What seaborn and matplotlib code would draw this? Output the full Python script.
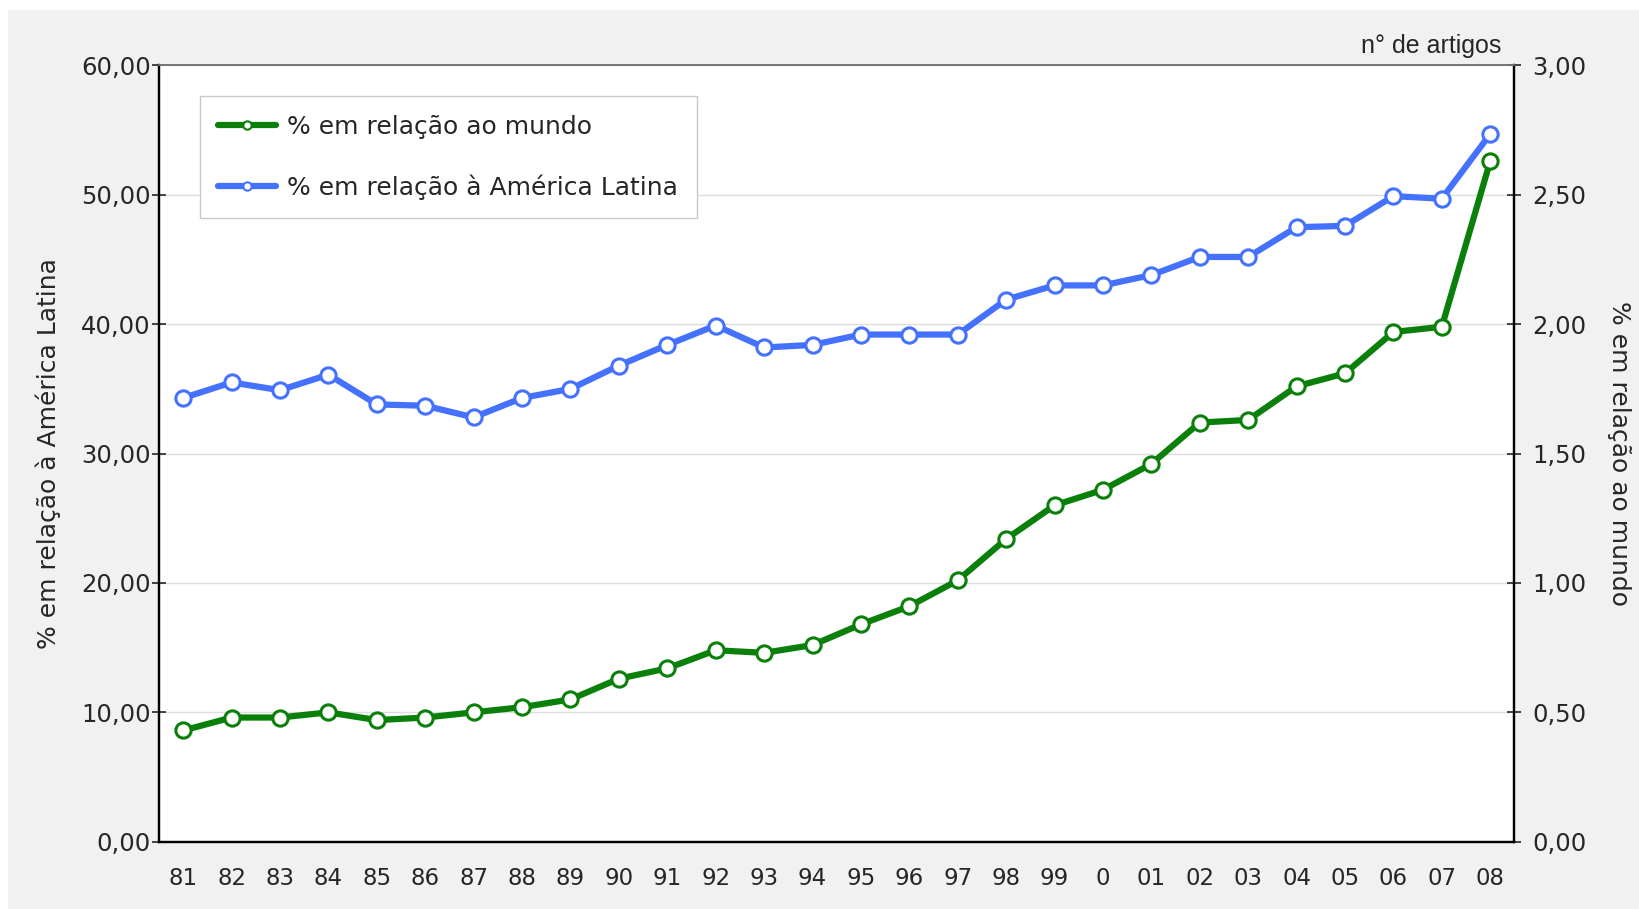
import matplotlib
matplotlib.use("Agg")
import matplotlib.pyplot as plt
import matplotlib.ticker as mticker
from matplotlib.patches import Rectangle
from matplotlib.lines import Line2D
import seaborn as sns
import pandas as pd

anos = ["81", "82", "83", "84", "85", "86", "87", "88", "89", "90", "91", "92", "93", "94",
        "95", "96", "97", "98", "99", "0", "01", "02", "03", "04", "05", "06", "07", "08"]
pct_america_latina = [34.3, 35.5, 34.9, 36.1, 33.8, 33.7, 32.8, 34.3, 35.0, 36.8, 38.4, 39.9, 38.2, 38.4,
                      39.2, 39.2, 39.2, 41.9, 43.0, 43.0, 43.8, 45.2, 45.2, 47.5, 47.6, 49.9, 49.7, 54.7]
pct_mundo = [0.43, 0.48, 0.48, 0.50, 0.47, 0.48, 0.50, 0.52, 0.55, 0.63, 0.67, 0.74, 0.73, 0.76,
             0.84, 0.91, 1.01, 1.17, 1.30, 1.36, 1.46, 1.62, 1.63, 1.76, 1.81, 1.97, 1.99, 2.63]

lbl_mundo = "% em relação ao mundo"
lbl_al = "% em relação à América Latina"
verde = "#0a800a"
azul = "#4472ff"

df = pd.DataFrame({"ano": anos, "al": pct_america_latina, "mundo": pct_mundo})

sns.set_style("white")
plt.rcParams["font.family"] = ["DejaVu Sans"]

fig = plt.figure(figsize=(16.39, 9.09), dpi=100, facecolor="white")
fig.patches.append(Rectangle((0.005, 0.0), 0.995, 0.989, transform=fig.transFigure,
                             facecolor="#f1f1f1", edgecolor="none", zorder=-10))
ax = fig.add_axes([0.097, 0.074, 0.827, 0.854])
ax.set_facecolor("white")
ax2 = ax.twinx()

estilo = dict(linewidth=4.5, marker="o", markersize=11, markerfacecolor="white",
              markeredgewidth=2.2, sort=False)
sns.lineplot(data=df, x="ano", y="al", ax=ax, color=azul, markeredgecolor=azul, **estilo)
sns.lineplot(data=df, x="ano", y="mundo", ax=ax2, color=verde, markeredgecolor=verde, **estilo)

ax.set_xlim(-0.5, len(anos) - 0.5)
ax.set_ylim(0, 60)
ax2.set_ylim(0, 3)
ax.set_yticks(range(0, 61, 10))
ax2.set_yticks([0, 0.5, 1, 1.5, 2, 2.5, 3])
fmt = lambda v, p: f"{v:.2f}".replace(".", ",")
ax.yaxis.set_major_formatter(mticker.FuncFormatter(fmt))
ax2.yaxis.set_major_formatter(mticker.FuncFormatter(fmt))

# labels at category centres, tick marks at the band edges
ax.set_xticks([i + 0.5 for i in range(len(anos) - 1)])
ax.set_xticklabels([])
ax.set_xticks(range(len(anos)), minor=True)
ax.set_xticklabels(anos, minor=True)
ax.tick_params(axis="x", which="major", direction="out", length=7, width=1.2, color="black")
ax.tick_params(axis="x", which="minor", length=0, pad=18, labelsize=16.5)

ax.tick_params(axis="y", direction="inout", length=10, width=1.2, labelsize=17.5, pad=1)
ax2.tick_params(axis="y", direction="inout", length=10, width=1.2, labelsize=17.5, pad=8)

ax.grid(axis="y", color="#dddddd", linewidth=1)
ax.set_axisbelow(True)

for a in (ax, ax2):
    for s in ("left", "bottom", "right"):
        a.spines[s].set_color("black")
        a.spines[s].set_linewidth(1.6)
    a.spines["top"].set_color("#777777")
    a.spines["top"].set_linewidth(1.3)

ax.set_xlabel("")
ax.set_ylabel(lbl_al, fontsize=18, labelpad=14)
ax2.set_ylabel(lbl_mundo, fontsize=18, rotation=270, labelpad=32)

ax2.text(0.99, 1.01, "n° de artigos", transform=ax.transAxes, ha="right", va="bottom",
         fontsize=18, family=["Liberation Sans"])

handles = [
    Line2D([], [], color=verde, linewidth=4.5, marker="o", markersize=6,
           markerfacecolor="white", markeredgecolor=verde, markeredgewidth=1.5),
    Line2D([], [], color=azul, linewidth=4.5, marker="o", markersize=6,
           markerfacecolor="white", markeredgecolor=azul, markeredgewidth=1.5),
]
ax2.legend(handles, [lbl_mundo, lbl_al], loc="upper left", bbox_to_anchor=(0.03, 0.96),
           borderaxespad=0, fontsize=18, frameon=True, fancybox=False, edgecolor="#c8c8c8",
           facecolor="white", framealpha=1, handlelength=2.3, handletextpad=0.45,
           labelspacing=1.4, borderpad=0.75)

fig.savefig("out.png", dpi=100, facecolor=fig.get_facecolor())
